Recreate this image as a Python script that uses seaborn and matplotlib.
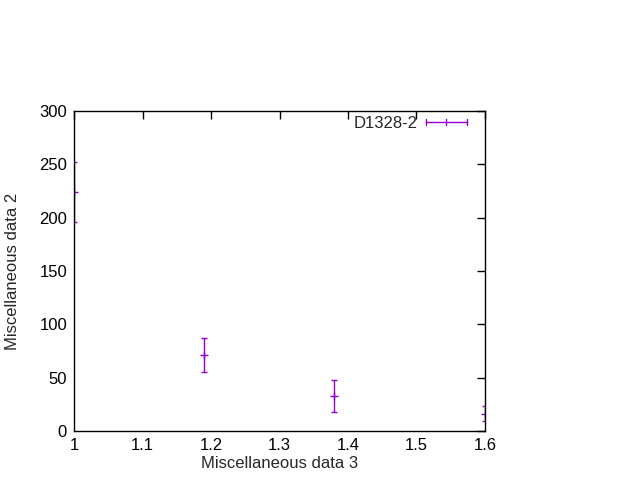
import numpy as np
import pandas as pd
import matplotlib
matplotlib.use("Agg")
import matplotlib.pyplot as plt
import seaborn as sns
from matplotlib.legend_handler import HandlerBase
from matplotlib.lines import Line2D

# data
x_vals = [1.0, 1.19, 1.38, 1.6]
y_vals = [224, 71, 32.5, 16]
y_err = [28, 16, 15, 7]
series_name = "D1328-2"

x_ticks = [1.0, 1.1, 1.2, 1.3, 1.4, 1.5, 1.6]
x_ticklabels = ["1", "1.1", "1.2", "1.3", "1.4", "1.5", "1.6"]
y_ticks = [0, 50, 100, 150, 200, 250, 300]

color = "#9400d3"

sns.set_style("white")
plt.rcParams['font.family'] = ['Liberation Sans', 'DejaVu Sans']
plt.rcParams['font.size'] = 12

df = pd.DataFrame({"x": x_vals, "y": y_vals, "err": y_err})


class HBarHandler(HandlerBase):
    # gnuplot style key sample: horizontal bar with end caps and a centre point
    def create_artists(self, legend, orig_handle, xdescent, ydescent,
                       width, height, fontsize, trans):
        y = height / 2 - ydescent
        x0, x1 = -xdescent, width - xdescent
        cap = 2
        arts = [Line2D([x0, x1], [y, y], color=color, lw=1),
                Line2D([x0, x0], [y - cap, y + cap], color=color, lw=1),
                Line2D([x1, x1], [y - cap, y + cap], color=color, lw=1),
                Line2D([(x0 + x1) / 2] * 2, [y - cap, y + cap], color=color, lw=1)]
        for a in arts:
            a.set_transform(trans)
        return arts


fig = plt.figure(figsize=(6.4, 4.8), dpi=100)
ax = fig.add_axes([74 / 640, 49 / 480, 411 / 640, 320 / 480])

ax.errorbar(df["x"], df["y"], yerr=df["err"], fmt="none", ecolor=color,
            elinewidth=1, capsize=2, capthick=1)
sns.scatterplot(data=df, x="x", y="y", marker="+", s=28, color=color,
                linewidth=1, ax=ax, legend=False)

ax.set_xlim(1.0, 1.6)
ax.set_ylim(0, 300)
ax.set_xticks(x_ticks)
ax.set_xticklabels(x_ticklabels)
ax.set_yticks(y_ticks)
ax.tick_params(direction="in", length=6, width=1, top=True, right=True,
               labelsize=12, colors="black", pad=5)
for s in ax.spines.values():
    s.set_color("black")
    s.set_linewidth(1)

ax.set_xlabel("Miscellaneous data 3", fontsize=12, labelpad=2)
ax.set_ylabel("Miscellaneous data 2", fontsize=12, labelpad=14)

proxy = Line2D([], [], color=color)
ax.legend([proxy], [series_name], handler_map={Line2D: HBarHandler()},
          loc="upper right", frameon=False, markerfirst=False,
          fontsize=12, handlelength=2.45, handletextpad=0.5,
          borderpad=0, borderaxespad=0, bbox_to_anchor=(0.956, 0.985))

fig.savefig("out.png", dpi=100)
